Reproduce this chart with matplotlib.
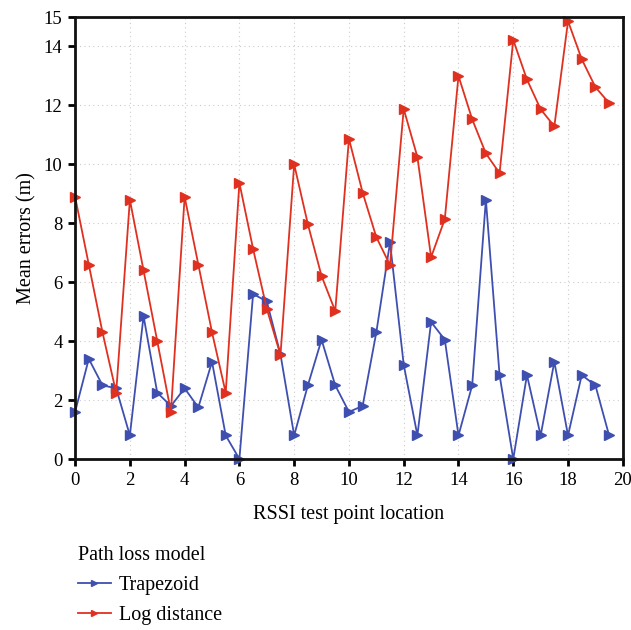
import numpy as np
import matplotlib
matplotlib.use("Agg")
import matplotlib.pyplot as plt

plt.rcParams['font.family'] = ['Liberation Serif', 'DejaVu Serif']

# RSSI test point locations
locations = np.arange(0, 20, 0.5)

# mean errors (m)
trapezoid = [1.6, 3.4, 2.5, 2.4, 0.8, 4.85, 2.25, 1.8, 2.4, 1.75,
             3.3, 0.8, 0.0, 5.6, 5.35, 3.55, 0.8, 2.5, 4.05, 2.5,
             1.6, 1.8, 4.3, 7.35, 3.2, 0.8, 4.65, 4.05, 0.8, 2.5,
             8.8, 2.85, 0.0, 2.85, 0.8, 3.3, 0.8, 2.85, 2.5, 0.8]
log_distance = [8.9, 6.6, 4.3, 2.25, 8.8, 6.4, 4.0, 1.6, 8.9, 6.6,
                4.3, 2.25, 9.37, 7.13, 5.1, 3.53, 10.0, 7.97, 6.21, 5.02,
                10.87, 9.04, 7.53, 6.58, 11.88, 10.25, 6.85, 8.14, 13.0, 11.53,
                10.37, 9.7, 14.22, 12.88, 11.87, 11.29, 14.86, 13.57, 12.62, 12.08]

xticks = list(range(0, 21, 2))
yticks = [0, 2, 4, 6, 8, 10, 12, 14, 15]

blue = '#3f4fb0'
red = '#e03020'

fig = plt.figure(figsize=(6.31, 6.30), dpi=100)
ax = fig.add_axes([0.119, 0.2714, 0.868, 0.7016])

ax.plot(locations, trapezoid, color=blue, lw=1.3, marker='>', ms=6.5,
        label='Trapezoid', clip_on=False, zorder=3)
ax.plot(locations, log_distance, color=red, lw=1.3, marker='>', ms=6.5,
        label='Log distance', clip_on=False, zorder=3)

ax.set_xlim(0, 20)
ax.set_ylim(0, 15)
ax.set_xticks(xticks)
ax.set_yticks(yticks)
ax.tick_params(direction='out', length=5, width=2, labelsize=13.5, pad=4)
for s in ax.spines.values():
    s.set_linewidth(2)
    s.set_color('#111111')
    s.set_zorder(4)
ax.grid(True, ls=(0, (1, 3)), color='#cccccc', lw=0.8)
ax.set_axisbelow(True)

ax.set_xlabel('RSSI test point location', fontsize=14.5, labelpad=12)
ax.set_ylabel('Mean errors (m)', fontsize=14.5, labelpad=5)

leg = fig.legend(loc='upper left', bbox_to_anchor=(0.123, 0.134),
                 title='Path loss model', frameon=False, fontsize=14.5,
                 title_fontsize=14.5, markerscale=0.6, handlelength=1.65,
                 handletextpad=0.4, labelspacing=0.55, borderpad=0,
                 borderaxespad=0, alignment='left')

fig.savefig('out.png', dpi=100)
